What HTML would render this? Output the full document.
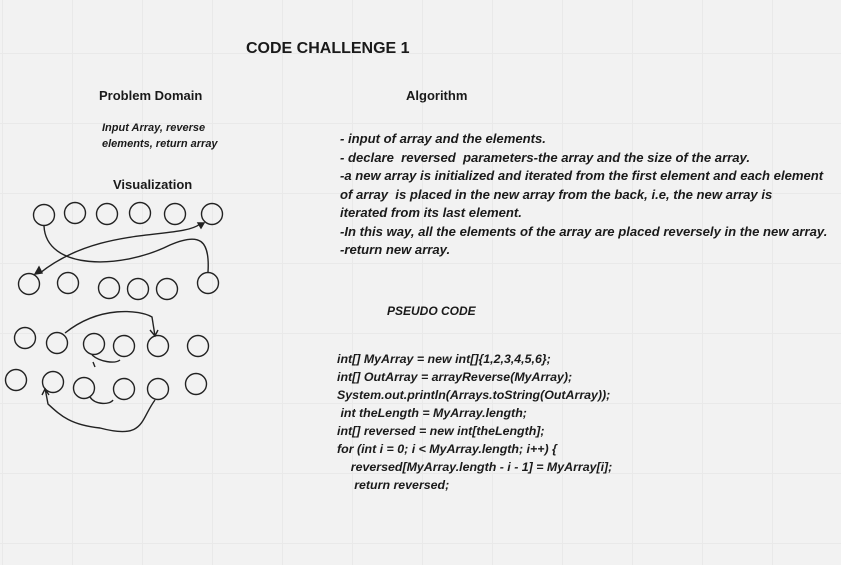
<!DOCTYPE html>
<html><head><meta charset="utf-8"><style>
body{margin:0;width:841px;height:565px;overflow:hidden;background:#f2f2f2;font-family:"Liberation Sans",sans-serif;color:#1a1a1a;
background-image:linear-gradient(#e9e9e9 1px,transparent 1px),linear-gradient(90deg,#e9e9e9 1px,transparent 1px);background-size:70px 70px;background-position:2px 53px;}
.t{position:absolute;white-space:nowrap;font-weight:bold}
.i{font-style:italic}
.alg{position:absolute;left:340px;top:130px;font-size:13.1px;font-weight:bold;font-style:italic;line-height:18.5px;white-space:nowrap}
.code{position:absolute;left:337px;top:350px;font-size:12.4px;font-weight:bold;font-style:italic;line-height:18px;white-space:pre}
</style></head><body>
<div class="t" style="left:246px;top:40px;font-size:16px">CODE CHALLENGE 1</div>
<div class="t" style="left:99px;top:88px;font-size:13px">Problem Domain</div>
<div class="t" style="left:406px;top:88px;font-size:13px">Algorithm</div>
<div class="t i" style="left:102px;top:120px;font-size:11px;line-height:16px">Input Array, reverse<br>elements, return array</div>
<div class="t" style="left:113px;top:177px;font-size:13px">Visualization</div>
<div class="alg">- input of array and the elements.<br>- declare&nbsp; reversed&nbsp; parameters-the array and the size of the array.<br>-a new array is initialized and iterated from the first element and each element<br>of array&nbsp; is placed in the new array from the back, i.e, the new array is<br>iterated from its last element.<br>-In this way, all the elements of the array are placed reversely in the new array.<br>-return new array.</div>
<div class="t i" style="left:387px;top:304px;font-size:12px">PSEUDO CODE</div>
<div class="code">int[] MyArray = new int[]{1,2,3,4,5,6};
int[] OutArray = arrayReverse(MyArray);
System.out.println(Arrays.toString(OutArray));
 int theLength = MyArray.length;
int[] reversed = new int[theLength];
for (int i = 0; i &lt; MyArray.length; i++) {
    reversed[MyArray.length - i - 1] = MyArray[i];
     return reversed;</div>
<svg width="841" height="565" style="position:absolute;left:0;top:0" fill="none" stroke="#222" stroke-width="1.4">
<g>
<circle cx="44" cy="215" r="10.5"/><circle cx="75" cy="213" r="10.5"/><circle cx="107" cy="214" r="10.5"/><circle cx="140" cy="213" r="10.5"/><circle cx="175" cy="214" r="10.5"/><circle cx="212" cy="214" r="10.5"/>
<circle cx="29" cy="284" r="10.5"/><circle cx="68" cy="283" r="10.5"/><circle cx="109" cy="288" r="10.5"/><circle cx="138" cy="289" r="10.5"/><circle cx="167" cy="289" r="10.5"/><circle cx="208" cy="283" r="10.5"/>
<circle cx="25" cy="338" r="10.5"/><circle cx="57" cy="343" r="10.5"/><circle cx="94" cy="344" r="10.5"/><circle cx="124" cy="346" r="10.5"/><circle cx="158" cy="346" r="10.5"/><circle cx="198" cy="346" r="10.5"/>
<circle cx="16" cy="380" r="10.5"/><circle cx="53" cy="382" r="10.5"/><circle cx="84" cy="388" r="10.5"/><circle cx="124" cy="389" r="10.5"/><circle cx="158" cy="389" r="10.5"/><circle cx="196" cy="384" r="10.5"/>
</g>
<path d="M44 226 C46 270 120 270 170 245 C200 232 210 240 208 272"/>
<path d="M40 273 C100 225 180 240 200 224"/>
<path d="M35 274 l7 -1 l-3 -6 z" fill="#222"/>
<path d="M204 223 l-6 0 l3 5 z" fill="#222"/>
<path d="M65 333 C100 305 140 310 152 317 L155 336 M150 330 l5 6 l3 -6"/>
<path d="M92 355 C100 362 115 364 120 360 M93 362 l2 5"/>
<path d="M90 397 C95 405 110 405 113 400"/>
<path d="M155 400 C140 420 145 440 100 428 C70 425 60 415 48 404 L45 388 M42 395 l3 -6 l4 6"/>
</svg>
</body></html>
